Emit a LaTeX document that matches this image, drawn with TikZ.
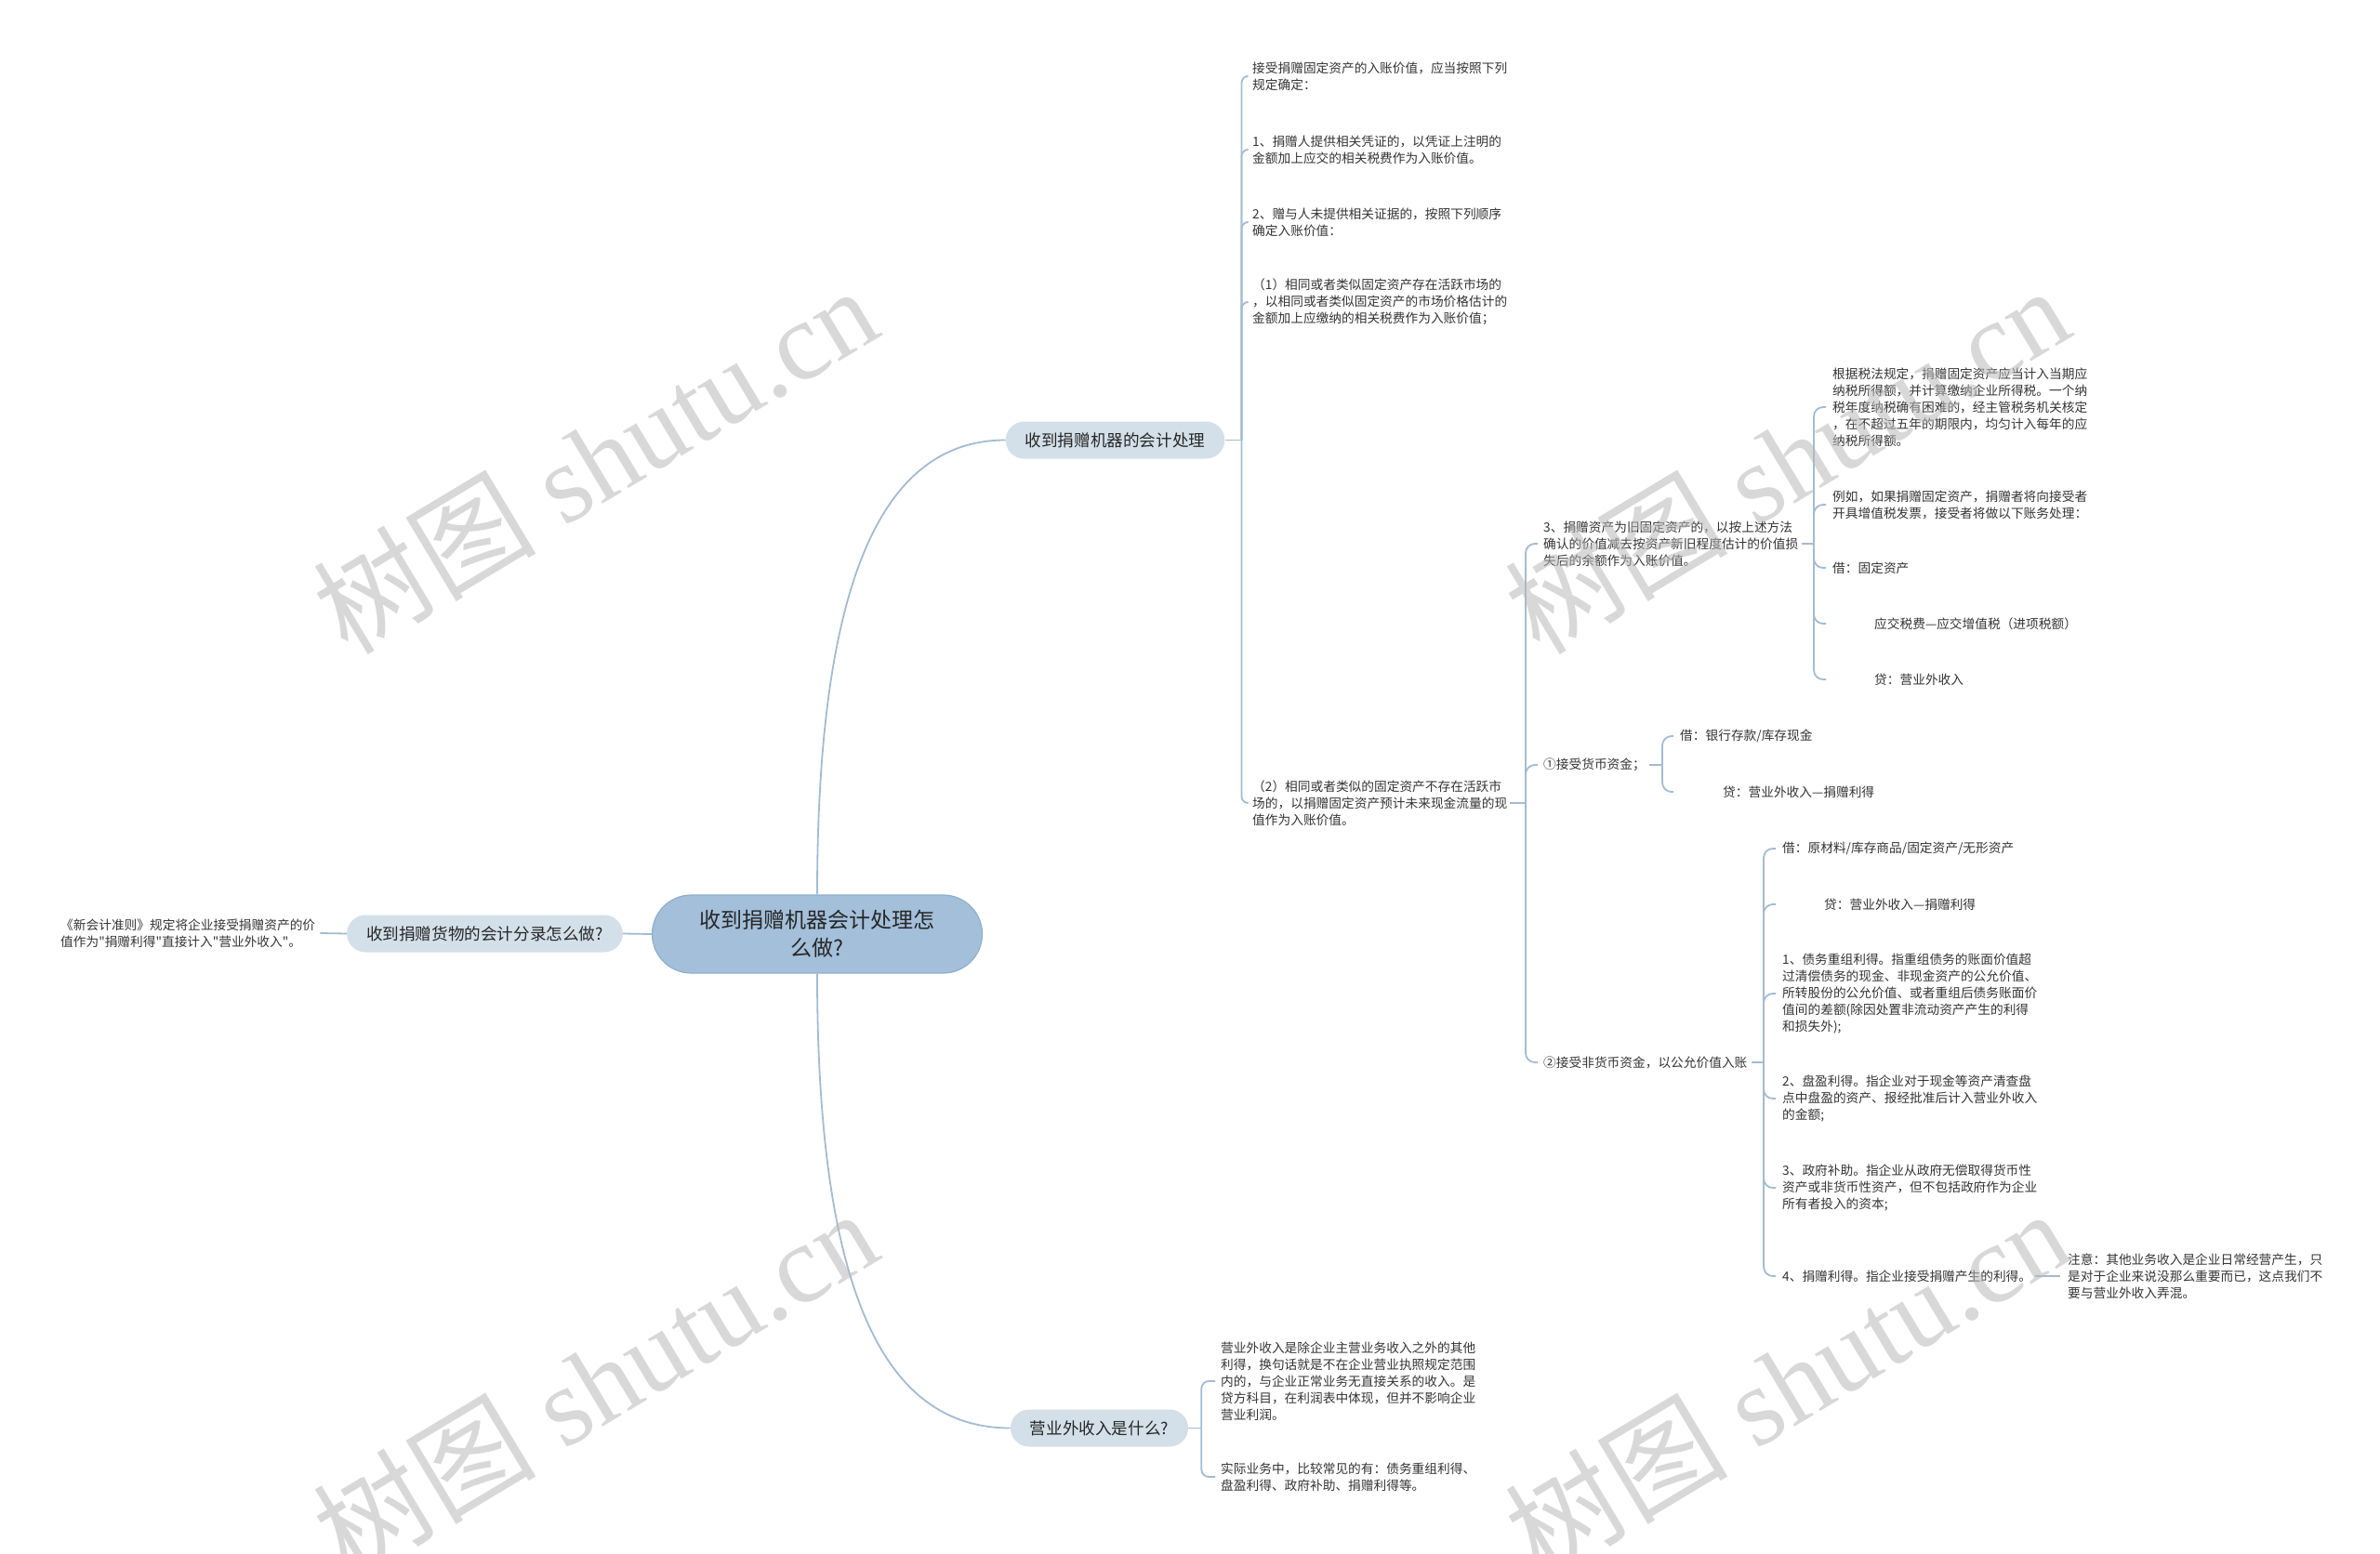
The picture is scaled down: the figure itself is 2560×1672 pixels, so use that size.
\documentclass[tikz,border=0pt]{standalone}
\usepackage{fontspec}
\newfontfamily\cjk{Noto Sans CJK SC}
\newfontfamily\wmlat{Liberation Serif}
\definecolor{lineC}{HTML}{A3BBD1}
\definecolor{rootF}{HTML}{A3BFDA}
\definecolor{rootD}{HTML}{90AECB}
\definecolor{brF}{HTML}{D4E0E9}
\definecolor{txtC}{HTML}{333333}
\definecolor{wmC}{HTML}{B8B8B8}
\tikzset{
  conn/.style={draw=lineC, line width=1.8pt},
  leaf/.style={font=\cjk\fontsize{13.7}{18}\selectfont, text=txtC, align=left, anchor=west, inner sep=0pt},
  rootbox/.style={rounded corners=42pt, fill=rootF, draw=rootD, line width=1.2pt, minimum width=355pt, minimum height=84pt, inner sep=0pt, font=\cjk\fontsize{23}{30}\selectfont, align=center, text=black!85},
  brbox/.style={rounded corners=20pt, fill=brF, minimum height=40pt, inner xsep=21pt, inner ysep=0pt, font=\cjk\fontsize{17.6}{22}\selectfont, text=black!85},
  wm/.style={font=\wmlat\fontsize{120}{120}\selectfont, text=wmC, text opacity=0.55, rotate=31, inner sep=0pt}
}
\begin{document}
\begin{tikzpicture}[x=1pt,y=-1pt]
\useasboundingbox (0,0) rectangle (2560,1672);
% main nodes
\node[rootbox] (root) at (879,1005) {收到捐赠机器会计处理怎\\么做?};
\node[brbox] (b1) at (1199.5,473.5) {收到捐赠机器的会计处理};
\node[brbox] (b2) at (521.5,1004.5) {收到捐赠货物的会计分录怎么做?};
\node[brbox] (b3) at (1182.5,1536.5) {营业外收入是什么?};
\node[leaf] (l0) at (65,1004) {《新会计准则》规定将企业接受捐赠资产的价\\值作为"捐赠利得"直接计入"营业外收入"。};
% branch 1 children
\node[leaf] (p1) at (1347,82) {接受捐赠固定资产的入账价值，应当按照下列\\规定确定：};
\node[leaf] (p2) at (1347,161) {1、捐赠人提供相关凭证的，以凭证上注明的\\金额加上应交的相关税费作为入账价值。};
\node[leaf] (p3) at (1347,239) {2、赠与人未提供相关证据的，按照下列顺序\\确定入账价值：};
\node[leaf] (p4) at (1347,325) {（1）相同或者类似固定资产存在活跃市场的\\，以相同或者类似固定资产的市场价格估计的\\金额加上应缴纳的相关税费作为入账价值；};
\node[leaf] (p5) at (1347,864) {（2）相同或者类似的固定资产不存在活跃市\\场的，以捐赠固定资产预计未来现金流量的现\\值作为入账价值。};
% p5 children
\node[leaf] (q1) at (1660,585) {3、捐赠资产为旧固定资产的，以按上述方法\\确认的价值减去按资产新旧程度估计的价值损\\失后的余额作为入账价值。};
\node[leaf] (q2) at (1660,823) {①接受货币资金；};
\node[leaf] (q3) at (1660,1143) {②接受非货币资金，以公允价值入账};
% q1 children
\node[leaf] (r1) at (1971,438) {根据税法规定，捐赠固定资产应当计入当期应\\纳税所得额，并计算缴纳企业所得税。一个纳\\税年度纳税确有困难的，经主管税务机关核定\\，在不超过五年的期限内，均匀计入每年的应\\纳税所得额。};
\node[leaf] (r2) at (1971,543) {例如，如果捐赠固定资产，捐赠者将向接受者\\开具增值税发票，接受者将做以下账务处理：};
\node[leaf] (r3) at (1971,611) {借：固定资产};
\node[leaf] (r4) at (1971,671) {\hspace*{45pt}应交税费—应交增值税（进项税额）};
\node[leaf] (r5) at (1971,731) {\hspace*{45pt}贷：营业外收入};
% q2 children
\node[leaf] (s1) at (1807,792) {借：银行存款/库存现金};
\node[leaf] (s2) at (1807,852) {\hspace*{46pt}贷：营业外收入—捐赠利得};
% q3 children
\node[leaf] (t1) at (1917,913) {借：原材料/库存商品/固定资产/无形资产};
\node[leaf] (t2) at (1917,973) {\hspace*{45pt}贷：营业外收入—捐赠利得};
\node[leaf] (t3) at (1917,1069) {1、债务重组利得。指重组债务的账面价值超\\过清偿债务的现金、非现金资产的公允价值、\\所转股份的公允价值、或者重组后债务账面价\\值间的差额(除因处置非流动资产产生的利得\\和损失外);};
\node[leaf] (t4) at (1917,1182) {2、盘盈利得。指企业对于现金等资产清查盘\\点中盘盈的资产、报经批准后计入营业外收入\\的金额;};
\node[leaf] (t5) at (1917,1278) {3、政府补助。指企业从政府无偿取得货币性\\资产或非货币性资产，但不包括政府作为企业\\所有者投入的资本;};
\node[leaf] (t6) at (1917,1373) {4、捐赠利得。指企业接受捐赠产生的利得。};
\node[leaf] (u1) at (2224,1373) {注意：其他业务收入是企业日常经营产生，只\\是对于企业来说没那么重要而已，这点我们不\\要与营业外收入弄混。};
% branch 3 children
\node[leaf] (v1) at (1313,1486) {营业外收入是除企业主营业务收入之外的其他\\利得，换句话就是不在企业营业执照规定范围\\内的，与企业正常业务无直接关系的收入。是\\贷方科目，在利润表中体现，但并不影响企业\\营业利润。};
\node[leaf] (v2) at (1313,1589) {实际业务中，比较常见的有：债务重组利得、\\盘盈利得、政府补助、捐赠利得等。};
% connectors
\draw[conn] (root.north) .. controls (879,600) and (960,473.5) .. (b1.west);
\draw[conn] (root.south) .. controls (879,1410) and (960,1536.5) .. (b3.west);
\draw[conn] (root.west) -- (b2.east);
\draw[conn] (b2.west) -- ([xshift=5pt]l0.east);
\draw[conn] (b1.east) -- ++(18,0) coordinate (sb1);
\foreach \c in {p1,p2,p3,p4,p5} \draw[conn, rounded corners=7pt] (sb1) |- ([xshift=-6pt]\c.west);
\draw[conn] ([xshift=3pt]p5.east) -- (1641,864) coordinate (sp5);
\foreach \c in {q1,q2,q3} \draw[conn, rounded corners=10pt] (sp5) |- ([xshift=-6pt]\c.west);
\draw[conn] ([xshift=4pt]q1.east) -- (1951,585) coordinate (sq1);
\foreach \c in {r1,r2,r3,r4,r5} \draw[conn, rounded corners=10pt] (sq1) |- ([xshift=-7pt]\c.west);
\draw[conn] ([xshift=4pt]q2.east) -- (1788,823) coordinate (sq2);
\foreach \c in {s1,s2} \draw[conn, rounded corners=10pt] (sq2) |- ([xshift=-7pt]\c.west);
\draw[conn] ([xshift=4pt]q3.east) -- (1897,1143) coordinate (sq3);
\foreach \c in {t1,t2,t3,t4,t5,t6} \draw[conn, rounded corners=10pt] (sq3) |- ([xshift=-7pt]\c.west);
\draw[conn] ([xshift=4pt]t6.east) -- ([xshift=-8pt]u1.west);
\draw[conn] (b3.east) -- ++(14,0) coordinate (sb3);
\foreach \c in {v1,v2} \draw[conn, rounded corners=8pt] (sb3) |- ([xshift=-6pt]\c.west);
% watermarks
\node[wm] (w1) at (640,494) {{\cjk 树图} shutu.cn};
\node[wm] (w2) at (1922,494) {{\cjk 树图} shutu.cn};
\node[wm] (w3) at (640,1487) {{\cjk 树图} shutu.cn};
\node[wm] (w4) at (1922,1487) {{\cjk 树图} shutu.cn};
\end{tikzpicture}
\end{document}
